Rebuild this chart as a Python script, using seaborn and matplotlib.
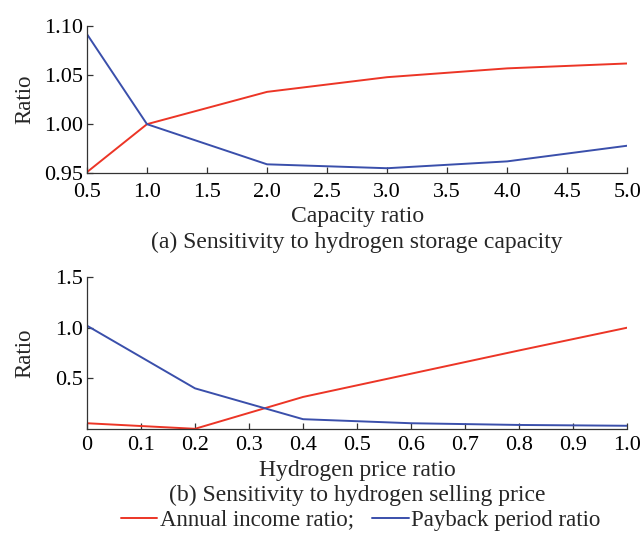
import matplotlib
matplotlib.use("Agg")
import matplotlib.pyplot as plt
import seaborn as sns
import pandas as pd

# Panel (a)
cap_x = [0.5, 1.0, 2.0, 3.0, 4.0, 5.0]
cap_income = [0.951, 1.000, 1.033, 1.048, 1.057, 1.062]
cap_payback = [1.092, 1.000, 0.959, 0.955, 0.962, 0.978]

# Panel (b)
price_x = [0.0, 0.2, 0.4, 0.6, 0.8, 1.0]
price_income = [0.055, 0.0, 0.315, 0.545, 0.775, 1.0]
price_payback = [1.02, 0.40, 0.095, 0.055, 0.038, 0.03]

labels = ["Annual income ratio;", "Payback period ratio"]
RED = "#ec3526"
BLUE = "#3a4fab"

sns.set_theme(style="ticks")
plt.rcParams['font.family'] = ['Liberation Serif', 'DejaVu Serif']

fig = plt.figure(figsize=(6.44, 5.36), dpi=100)
ax1 = fig.add_axes([0.135, 0.677, 0.839, 0.274])
ax2 = fig.add_axes([0.135, 0.200, 0.839, 0.283])

dfa = pd.DataFrame({"x": cap_x * 2, "y": cap_income + cap_payback,
                    "s": [labels[0]] * 6 + [labels[1]] * 6})
dfb = pd.DataFrame({"x": price_x * 2, "y": price_income + price_payback,
                    "s": [labels[0]] * 6 + [labels[1]] * 6})

pal = {labels[0]: RED, labels[1]: BLUE}
sns.lineplot(data=dfa, x="x", y="y", hue="s", palette=pal, ax=ax1, linewidth=1.4, legend=False)
sns.lineplot(data=dfb, x="x", y="y", hue="s", palette=pal, ax=ax2, linewidth=1.4, legend=False)

ax1.set_xlim(0.5, 5.0)
ax1.set_ylim(0.95, 1.10)
ax1.set_xticks([0.5, 1.0, 1.5, 2.0, 2.5, 3.0, 3.5, 4.0, 4.5, 5.0])
ax1.set_xticklabels(["0.5", "1.0", "1.5", "2.0", "2.5", "3.0", "3.5", "4.0", "4.5", "5.0"])
ax1.set_yticks([0.95, 1.00, 1.05, 1.10])
ax1.set_yticklabels(["0.95", "1.00", "1.05", "1.10"])
ax1.set_xlabel("Capacity ratio", fontsize=17, labelpad=3)
ax1.set_ylabel("Ratio", fontsize=16.5)

ax2.set_xlim(0, 1.0)
ax2.set_ylim(0, 1.5)
ax2.set_xticks([0, 0.1, 0.2, 0.3, 0.4, 0.5, 0.6, 0.7, 0.8, 0.9, 1.0])
ax2.set_xticklabels(["0", "0.1", "0.2", "0.3", "0.4", "0.5", "0.6", "0.7", "0.8", "0.9", "1.0"])
ax2.set_yticks([0.5, 1.0, 1.5])
ax2.set_yticklabels(["0.5", "1.0", "1.5"])
ax2.set_xlabel("Hydrogen price ratio", fontsize=17, labelpad=3)
ax2.set_ylabel("Ratio", fontsize=16.5)

for ax, xpad in ((ax1, 7), (ax2, 5.5)):
    sns.despine(ax=ax)
    ax.tick_params(direction="in", length=4.5, width=0.9, labelsize=16, colors="#333333",
                   labelcolor="black")
    ax.tick_params(axis="x", pad=xpad)
    ax.tick_params(axis="y", pad=3)
    for sp in ("left", "bottom"):
        ax.spines[sp].set_linewidth(0.9)
        ax.spines[sp].set_color("#333333")
    ax.yaxis.set_label_coords(-0.115, 0.5)
    ax.yaxis.label.set_verticalalignment("center")

fig.text(0.554, 1 - 242 / 536, "(a) Sensitivity to hydrogen storage capacity",
         ha="center", va="center", fontsize=17)
fig.text(0.554, 1 - 495 / 536, "(b) Sensitivity to hydrogen selling price",
         ha="center", va="center", fontsize=17)

handles = ax2.get_lines()[:2]
fig.legend(handles, labels, loc="center", bbox_to_anchor=(0.56, 1 - 520 / 536), ncol=2,
           frameon=False, fontsize=16.5, handlelength=1.6, handletextpad=0.1,
           columnspacing=0.8, borderpad=0, borderaxespad=0)

fig.savefig("out.png", dpi=100)
